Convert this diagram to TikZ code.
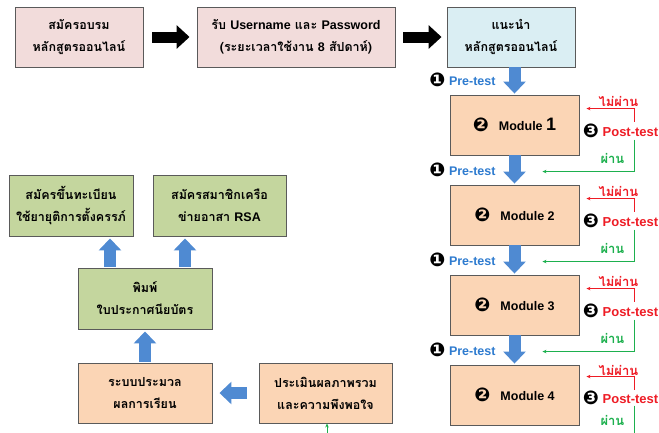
\documentclass[tikz,border=0pt]{standalone}
\usepackage{fontspec}
\setmainfont{Liberation Sans}
\newfontfamily\thai[Script=Thai]{Loma}
\newfontfamily\djv{DejaVu Sans}
\usetikzlibrary{arrows.meta,calc}
\definecolor{pinkbox}{HTML}{F2DCDB}
\definecolor{bluebox}{HTML}{DAEEF3}
\definecolor{orangebox}{HTML}{FBD5B5}
\definecolor{greenbox}{HTML}{C4D69E}
\definecolor{arrowblue}{HTML}{4F8AD2}
\definecolor{pretblue}{HTML}{2E7BCF}
\definecolor{failred}{HTML}{EE1C25}
\definecolor{passgreen}{HTML}{1DB04E}
\definecolor{edgegray}{HTML}{5A5A5A}
\newcommand{\circnum}[1]{\raisebox{-1pt}{\djv\fontsize{19}{19}\selectfont #1}}
\tikzset{
  box/.style={draw=edgegray, line width=0.9pt, align=center, inner sep=0pt,
    font=\thai\bfseries\fontsize{12.5}{22}\selectfont},
  modbox/.style={box, fill=orangebox, minimum width=129pt, minimum height=60pt,
    font=\bfseries\fontsize{12.5}{15}\selectfont},
  blackarrow/.style={line width=11pt, black, -{Triangle[length=13pt,width=23pt]}},
  bluearrow/.style={line width=12pt, arrowblue, -{Triangle[length=12pt,width=22pt]}},
  redline/.style={failred, line width=0.7pt, -{Stealth[length=4pt,width=3.5pt]}},
  greenline/.style={passgreen, line width=0.7pt, -{Stealth[length=4pt,width=3.5pt]}},
  pretext/.style={font=\bfseries\fontsize{12.5}{14}\selectfont, text=pretblue, inner sep=0pt},
  posttext/.style={font=\bfseries\fontsize{13}{15}\selectfont, text=failred, inner sep=0pt},
  failtext/.style={font=\thai\bfseries\fontsize{13}{15}\selectfont, text=failred, inner sep=0pt},
  passtext/.style={font=\thai\bfseries\fontsize{13}{15}\selectfont, text=passgreen, inner sep=0pt}
}
\begin{document}
\begin{tikzpicture}[x=1pt,y=-1pt]
\useasboundingbox (0,0) rectangle (659,432);
\clip (0,0) rectangle (659,432);
% top row
\node[box, fill=pinkbox, minimum width=128pt, minimum height=60pt] (b1) at (79,37)
  {สมัครอบรม\\หลักสูตรออนไลน์};
\node[box, fill=pinkbox, minimum width=198pt, minimum height=60pt] (b2) at (296,37)
  {รับ {\rmfamily\bfseries Username} และ {\rmfamily\bfseries Password}\\({ระยะเวลาใช้งาน} {\rmfamily\bfseries 8} สัปดาห์)};
\node[box, fill=bluebox, minimum width=128pt, minimum height=60pt] (b3) at (511,37)
  {แนะนำ\\หลักสูตรออนไลน์};
\draw[blackarrow, shorten <=9pt, shorten >=7pt] (b1.east) -- (b2.west);
\draw[blackarrow, shorten <=8pt, shorten >=5pt] (b2.east) -- (b3.west);
% modules
\node[modbox] (m1) at (514.5,125) {\circnum{❷}\hspace{10pt}Module {\fontsize{18}{18}\selectfont 1}};
\node[modbox] (m2) at (514.5,215) {\circnum{❷}\hspace{10pt}Module 2};
\node[modbox] (m3) at (514.5,305) {\circnum{❷}\hspace{10pt}Module 3};
\node[modbox] (m4) at (514.5,395) {\circnum{❷}\hspace{10pt}Module 4};
\draw[bluearrow, shorten >=1pt] (b3.south -| m1.north) -- (m1.north);
\draw[bluearrow, shorten >=1pt] (m1.south) -- (m2.north);
\draw[bluearrow, shorten >=1pt] (m2.south) -- (m3.north);
\draw[bluearrow, shorten >=1pt] (m3.south) -- (m4.north);
% pre-test labels
\node[pretext] (pre1) at ($(m1.north)+(-52,-15)$) {\textcolor{black}{\circnum{❶}} Pre-test};
\node[pretext] (pre2) at ($(m2.north)+(-52,-15)$) {\textcolor{black}{\circnum{❶}} Pre-test};
\node[pretext] (pre3) at ($(m3.north)+(-52,-15)$) {\textcolor{black}{\circnum{❶}} Pre-test};
\node[pretext] (pre4) at ($(m4.north)+(-52,-15)$) {\textcolor{black}{\circnum{❶}} Pre-test};
% post-test loops
\foreach \m/\n in {m1/m2,m2/m3,m3/m4}{
  \node[failtext] (f\m) at ($(\m.north east)+(39,7)$) {ไม่ผ่าน};
  \node[posttext, anchor=east] (p\m) at ($(\m.north east)+(79,36)$) {\textcolor{black}{\circnum{❸}} Post-test};
  \node[passtext] (s\m) at ($(\m.north east)+(33,64)$) {ผ่าน};
  \draw[redline] ($(\m.north east)+(55,27)$) |- ($(\m.north east)+(7,14)$);
  \draw[greenline] ($(\m.north east)+(55,45)$) |- ($(\n.north east)+(-37,-13)$);
}
% last module
\node[failtext] (fm4) at ($(m4.north east)+(39,6)$) {ไม่ผ่าน};
\node[posttext, anchor=east] (pm4) at ($(m4.north east)+(79,33)$) {\textcolor{black}{\circnum{❸}} Post-test};
\node[passtext] (sm4) at ($(m4.north east)+(33,56)$) {ผ่าน};
\draw[redline] ($(m4.north east)+(55,25)$) |- ($(m4.north east)+(7,12)$);
% left side
\node[box, fill=greenbox, minimum width=124pt, minimum height=61pt] (gA) at (71,205.5)
  {สมัครขึ้นทะเบียน\\ใช้ยายุติการตั้งครรภ์};
\node[box, fill=greenbox, minimum width=133pt, minimum height=61pt] (gB) at (219.5,205.5)
  {สมัครสมาชิกเครือ\\ข่ายอาสา {\rmfamily\bfseries RSA}};
\node[box, fill=greenbox, minimum width=134pt, minimum height=61pt] (pim) at (145,298.5)
  {พิมพ์\\ใบประกาศนียบัตร};
\node[box, fill=orangebox, minimum width=134pt, minimum height=60pt] (rb) at (145,393)
  {ระบบประมวล\\ผลการเรียน};
\node[box, fill=orangebox, minimum width=133pt, minimum height=60pt] (ev) at (325.5,393)
  {ประเมินผลภาพรวม\\และความพึงพอใจ};
\draw[bluearrow, shorten <=1pt, shorten >=2pt] ([xshift=-35pt]pim.north) -- ([xshift=-35pt]pim.north |- gA.south);
\draw[bluearrow, shorten <=1pt, shorten >=2pt] ([xshift=40pt]pim.north) -- ([xshift=40pt]pim.north |- gB.south);
\draw[bluearrow, shorten <=1pt, shorten >=2pt] (rb.north) -- (pim.south);
\draw[bluearrow, shorten <=12pt, shorten >=7pt] (ev.west) -- (rb.east);
\draw[greenline] ($(m4.north east)+(55,41)$) -- ++(0,40) -| ([xshift=1.5pt]ev.south);
\end{tikzpicture}
\end{document}
